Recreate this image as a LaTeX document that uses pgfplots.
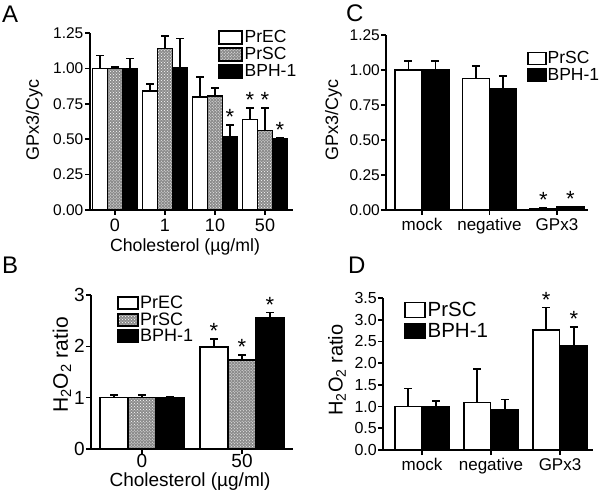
\documentclass[border=0pt]{standalone}
\usepackage{fontspec}
\setmainfont{Liberation Sans}
\usepackage{pgfplots}
\pgfplotsset{compat=1.18}
\usetikzlibrary{patterns}
\newcommand{\fs}[1]{\fontsize{#1bp}{#1bp}\selectfont}
\pgfplotsset{
  prism/.style={
    scale only axis, axis lines=left, axis line style={-, line width=1.7bp},
    every tick/.style={black, line width=1.6bp}, tick align=outside, major tick length=5bp,
    ymin=0, clip=false,
    ybar, bar width=0.3,
    /pgf/number format/assume math mode=true,
    yticklabel style={inner sep=1.5bp},
    xticklabel style={inner sep=3bp},
    legend cell align=left,
    legend style={draw=none, fill=none, inner sep=0pt, outer sep=0pt, anchor=north west,
       nodes={inner sep=0pt}},
  },
  boxleg/.style n args={3}{legend image code/.code={\draw[##1] (0bp,-#2bp) rectangle (#1bp,#3bp);}},
  wbar/.style={bar shift=0pt, fill=white, draw=black, line width=1.6bp},
  gbar/.style={bar shift=0pt, fill=black!45, draw=black, line width=1.6bp, postaction={pattern=crosshatch dots, pattern color=white}},
  kbar/.style={bar shift=0pt, fill=black, draw=black, line width=1.6bp},
  eb/.style={error bars/y dir=plus, error bars/y explicit,
     error bars/error bar style={line width=1.6bp, black},
     error bars/error mark options={rotate=90, mark size=4bp, line width=1.6bp, black}},
  stars/.style={bar shift=0pt, draw=none, fill=none, forget plot, nodes near coords={*},
     every node near coord/.style={anchor=south, inner sep=0bp, font=\fs{22}}},
  fmt/.style={yticklabel style={/pgf/number format/fixed, /pgf/number format/fixed zerofill, /pgf/number format/precision=#1}},
}
\begin{document}
\begin{tikzpicture}
\path[use as bounding box] (0bp,0bp) rectangle (600bp,493bp);
% ---------------- A
\begin{axis}[prism, at={(90bp,283bp)}, anchor=south west, width=203bp, height=177bp,
  xmin=-0.5, xmax=3.56, ymax=1.25, bar width=0.3,
  xtick={0,1,2,3}, xticklabels={0,1,10,50},
  ytick={0,0.25,0.5,0.75,1,1.25}, fmt=2,
  yticklabel style={font=\fs{15.5}}, xticklabel style={font=\fs{18}, inner sep=4bp},
  ylabel={GPx3/Cyc}, xlabel={Cholesterol (µg/ml)},
  every axis y label/.style={at={(axis description cs:-0.275,0.51)}, rotate=90, anchor=center, font=\fs{18}},
  every axis x label/.style={at={(axis description cs:0.468,-0.235)}, anchor=base, font=\fs{17.7}},
  boxleg={23}{6.5}{6.5},
  legend style={at={(axis description cs:0.631,1.017)}, font=\fs{17.5}, row sep=2.5bp,
    /tikz/every odd column/.style={column sep=2bp}},
]
\addplot[wbar, eb] coordinates {(-0.3,1.00) +- (0,0.09) (0.7,0.84) +- (0,0.05) (1.7,0.80) +- (0,0.14) (2.7,0.64) +- (0,0.08)};
\addplot[gbar, eb] coordinates {(0,1.00) +- (0,0.01) (1,1.14) +- (0,0.09) (2,0.805) +- (0,0.055) (3,0.56) +- (0,0.16)};
\addplot[kbar, eb] coordinates {(0.3,1.00) +- (0,0.07) (1.3,1.005) +- (0,0.205) (2.3,0.515) +- (0,0.085) (3.3,0.505) +- (0,0.005)};
\addplot[stars] coordinates {(2.3,0.60) (2.7,0.72) (3,0.72) (3.3,0.51)};
\legend{PrEC,PrSC,BPH-1}
\end{axis}
% ---------------- B
\begin{axis}[prism, at={(91bp,44bp)}, anchor=south west, width=202bp, height=154bp,
  xmin=-0.51, xmax=1.51, ymax=3, bar width=0.28,
  xtick={0,1}, xticklabels={0,50},
  ytick={0,1,2,3},
  yticklabel style={font=\fs{19}, inner sep=1bp}, xticklabel style={font=\fs{19}, inner sep=0bp},
  ylabel={H\textsubscript{2}O\textsubscript{2} ratio}, xlabel={Cholesterol (µg/ml)},
  every axis y label/.style={at={(axis description cs:-0.144,0.545)}, rotate=90, anchor=center, font=\fs{21}},
  every axis x label/.style={at={(axis description cs:0.49,-0.246)}, anchor=base, font=\fs{19}},
  boxleg={20}{6}{6},
  legend style={at={(axis description cs:0.129,0.992)}, font=\fs{18}, row sep=2.5bp,
    /tikz/every odd column/.style={column sep=1.5bp}},
]
\addplot[wbar, eb] coordinates {(-0.28,1.00) +- (0,0.05) (0.72,1.99) +- (0,0.15)};
\addplot[gbar, eb] coordinates {(0,1.00) +- (0,0.05) (1,1.73) +- (0,0.10)};
\addplot[kbar, eb] coordinates {(0.28,1.00) +- (0,0.02) (1.28,2.55) +- (0,0.11)};
\addplot[stars] coordinates {(0.72,2.14) (1,1.83) (1.28,2.66)};
\legend{PrEC,PrSC,BPH-1}
\end{axis}
% ---------------- C
\begin{axis}[prism, at={(386bp,283bp)}, anchor=south west, width=202bp, height=175bp,
  xmin=-0.533, xmax=2.46, ymax=1.25, bar width=0.4,
  xtick={0,1,2}, xticklabels={mock,negative,GPx3},
  ytick={0,0.25,0.5,0.75,1,1.25}, fmt=2,
  yticklabel style={font=\fs{15.5}, inner sep=1bp}, xticklabel style={font=\fs{17}, inner sep=3bp},
  ylabel={GPx3/Cyc},
  every axis y label/.style={at={(axis description cs:-0.26,0.514)}, rotate=90, anchor=center, font=\fs{18}},
  boxleg={18}{6}{6},
  legend style={at={(axis description cs:0.698,0.905)}, font=\fs{17.5}, row sep=3bp,
    /tikz/every odd column/.style={column sep=1bp}},
]
\addplot[wbar, eb] coordinates {(-0.2,1.00) +- (0,0.065) (0.8,0.94) +- (0,0.09) (1.8,0.012) +- (0,0.003)};
\addplot[kbar, eb] coordinates {(0.2,1.00) +- (0,0.065) (1.2,0.865) +- (0,0.09) (2.2,0.022) +- (0,0.003)};
\addplot[stars] coordinates {(1.8,0.015) (2.2,0.025)};
\legend{PrSC,BPH-1}
\end{axis}
% ---------------- D
\begin{axis}[prism, at={(383bp,43bp)}, anchor=south west, width=210bp, height=152bp,
  xmin=-0.565, xmax=2.478, ymax=3.5, bar width=0.39,
  xtick={0,1,2}, xticklabels={mock,negative,GPx3},
  ytick={0,0.5,1,1.5,2,2.5,3,3.5}, fmt=1,
  yticklabel style={font=\fs{16}, inner sep=1bp}, xticklabel style={font=\fs{17}, inner sep=3bp},
  ylabel={H\textsubscript{2}O\textsubscript{2} ratio},
  every axis y label/.style={at={(axis description cs:-0.219,0.526)}, rotate=90, anchor=center, font=\fs{20}},
  boxleg={20}{7.5}{7.5},
  legend style={at={(axis description cs:0.1,0.975)}, font=\fs{20.5}, row sep=4.5bp,
    /tikz/every odd column/.style={column sep=2bp}},
]
\addplot[wbar, eb] coordinates {(-0.2,1.00) +- (0,0.42) (0.8,1.09) +- (0,0.77) (1.8,2.77) +- (0,0.51)};
\addplot[kbar, eb] coordinates {(0.2,1.00) +- (0,0.13) (1.2,0.92) +- (0,0.245) (2.2,2.40) +- (0,0.43)};
\addplot[stars] coordinates {(1.8,3.28) (2.2,2.83)};
\legend{PrSC,BPH-1}
\end{axis}
% panel letters
\node[anchor=north west, inner sep=0pt, font=\fs{24}] at (2bp,487bp) {A};
\node[anchor=north west, inner sep=0pt, font=\fs{24}] at (2bp,236bp) {B};
\node[anchor=north west, inner sep=0pt, font=\fs{24}] at (346bp,488bp) {C};
\node[anchor=north west, inner sep=0pt, font=\fs{24}] at (348bp,236bp) {D};
\end{tikzpicture}
\end{document}
